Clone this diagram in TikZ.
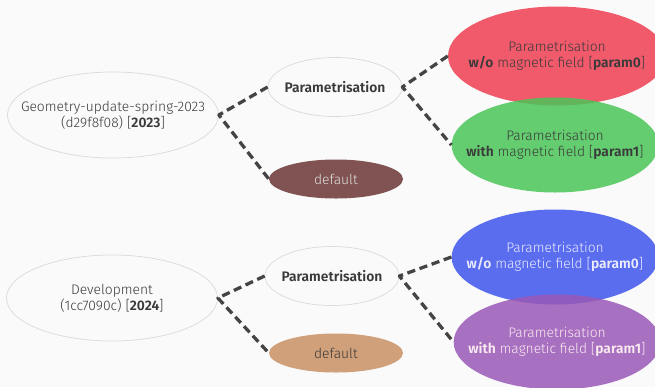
\documentclass[tikz,border=0pt]{standalone}
\usepackage{fontspec}
\setmainfont{Fira Sans Light}[BoldFont={Fira Sans SemiBold}]
\usetikzlibrary{shapes.geometric}
\definecolor{bgcol}{HTML}{FAFAFA}
\definecolor{rimcol}{HTML}{DADADA}
\definecolor{linkcol}{HTML}{444444}
\definecolor{txtcol}{HTML}{3A3A3A}
\definecolor{redcol}{RGB}{239,63,83}
\definecolor{greencol}{RGB}{74,198,88}
\definecolor{bluecol}{RGB}{62,85,238}
\definecolor{purplecol}{RGB}{154,88,182}
\definecolor{browncol}{RGB}{128,82,82}
\definecolor{tancol}{RGB}{208,160,122}
\begin{document}
\begin{tikzpicture}[x=0.03cm, y=-0.03cm, font=\fontsize{11.8}{13.7}\selectfont, line join=round,
	plain/.style={ellipse, draw=rimcol, line width=0.6pt, fill=bgcol, text=txtcol, align=center,
		inner xsep=-3cm, inner ysep=-2cm},
	geo/.style={plain, minimum width=6.33cm, minimum height=2.58cm},
	par/.style={plain, minimum width=4.02cm, minimum height=1.77cm},
	dflt/.style={ellipse, draw=none, minimum width=4.02cm, minimum height=1.17cm, inner xsep=-3cm, inner ysep=-2cm},
	field/.style={ellipse, draw=none, fill opacity=0.85, text opacity=1, align=center,
		inner xsep=-3cm, inner ysep=-2cm, minimum width=6.2cm, minimum height=2.85cm},
	link/.style={draw=linkcol, line width=2.8pt, dash pattern=on 7pt off 4pt, line cap=butt}]
	\useasboundingbox[fill=bgcol] (0,0) rectangle (655,387);
	\clip (0,0) rectangle (655,387);
	
	% 2023 branch
	\node[geo] (geoA) at (113,115) {Geometry-update-spring-2023\\(d29f8f08) [\textbf{2023}]};
	\node[par] (parA) at (335,87) {\textbf{Parametrisation}};
	\node[dflt, fill=browncol, text=black!12] (defA) at (336,179) {default};
	\node[field, fill=redcol, text=txtcol, minimum width=6.54cm, minimum height=2.97cm] (noB_A) at (557,56)
		{Parametrisation\\\textbf{w/o} magnetic field [\textbf{param0}]};
	\node[field, fill=greencol, text=txtcol] (withB_A) at (555,145)
		{Parametrisation\\\textbf{with} magnetic field [\textbf{param1}]};
	
	% 2024 branch
	\node[geo] (geoB) at (112,298) {Development\\(1cc7090c) [\textbf{2024}]};
	\node[par] (parB) at (332,276) {\textbf{Parametrisation}};
	\node[dflt, fill=tancol, text=txtcol] (defB) at (336,353) {default};
	\node[field, fill=bluecol, text=white!92!blue] (noB_B) at (555,257)
		{Parametrisation\\\textbf{w/o} magnetic field [\textbf{param0}]};
	\node[field, fill=purplecol, text=white!92!purple] (withB_B) at (557,342)
		{Parametrisation\\\textbf{with} magnetic field [\textbf{param1}]};
	
	\draw[link] (parA.west) -- (geoA.east) -- (defA.west);
	\draw[link] (noB_A.west) -- (parA.east) -- (withB_A.west);
	\draw[link] (parB.west) -- (geoB.east) -- (defB.west);
	\draw[link] (noB_B.west) -- (parB.east) -- (withB_B.west);
\end{tikzpicture}
\end{document}
